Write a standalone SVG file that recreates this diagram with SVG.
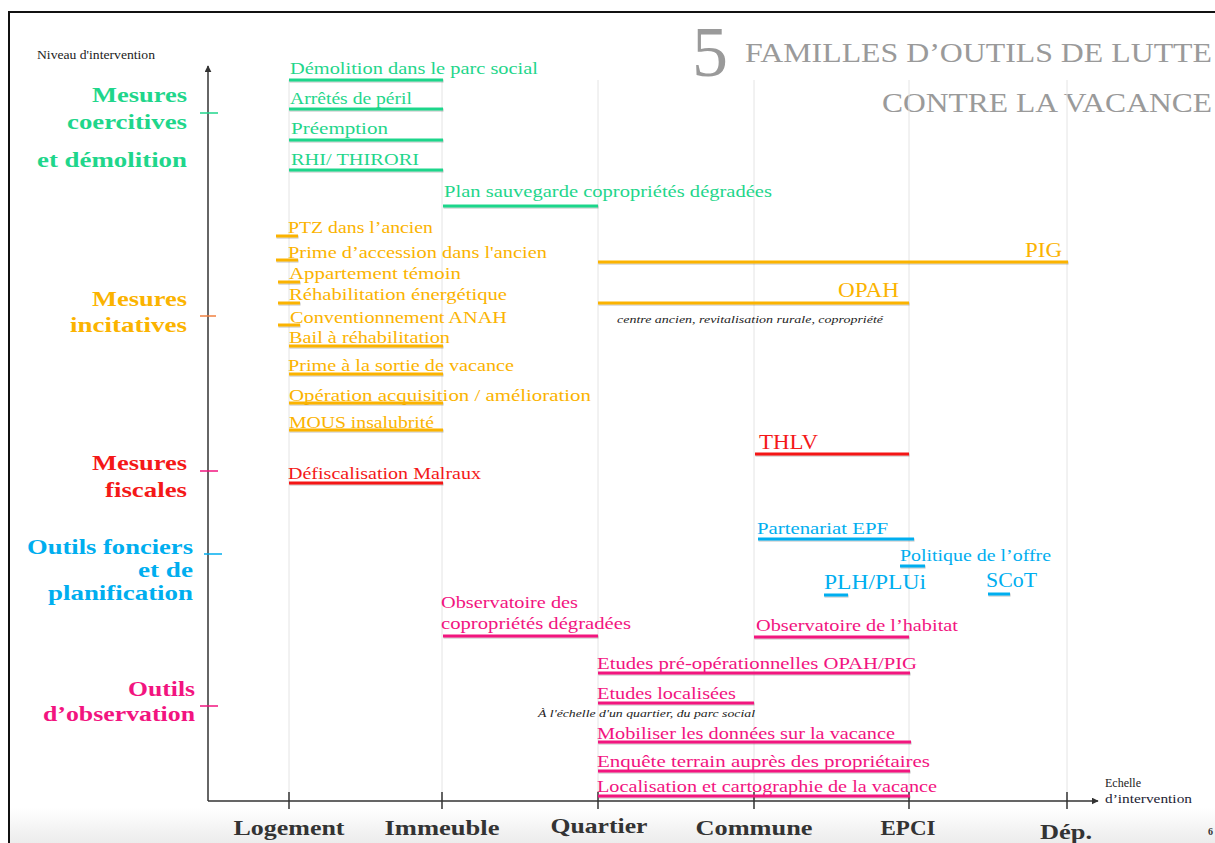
<svg xmlns="http://www.w3.org/2000/svg" width="1215" height="843" viewBox="0 0 1215 843">
<style>
text{font-family:"Liberation Serif","DejaVu Serif",serif}
.t{font-size:17px}
.big{font-size:20px}
.cat{font-size:21px;font-weight:bold;text-anchor:end}
.axl{font-size:20px;font-weight:bold;fill:#333;text-anchor:middle}
.it{font-size:10px;font-style:italic;fill:#222}
.g{fill:#1fd68b}.o{fill:#fbb300}.r{fill:#f41818}.b{fill:#00aeef}.p{fill:#f2147f}
.u{stroke-width:3;fill:none;filter:url(#sh)}
.ug{stroke:#1fd68b}.uo{stroke:#fbb300}.ur{stroke:#f41818}.ub{stroke:#00aeef}.up{stroke:#f2147f}
.grid{stroke:#e4e4e4;stroke-width:1}
.axis{stroke:#333;stroke-width:1.5;fill:none}
.title{fill:#9a9a9a}
</style>
<defs>
<marker id="ah" viewBox="0 0 10 10" refX="9" refY="5" markerWidth="7" markerHeight="7" orient="auto-start-reverse" markerUnits="userSpaceOnUse">
<path d="M0,0 L10,5 L0,10 z" fill="#333"/>
</marker>
<filter id="sh" filterUnits="userSpaceOnUse" x="0" y="0" width="1215" height="843">
<feDropShadow dx="0.5" dy="1" stdDeviation="0.6" flood-color="#000" flood-opacity="0.25"/>
</filter>
<linearGradient id="bot" x1="0" y1="0" x2="0" y2="1">
<stop offset="0" stop-color="#ffffff"/>
<stop offset="1" stop-color="#ececec"/>
</linearGradient>
</defs>
<rect x="0" y="0" width="1215" height="843" fill="#fff"/>
<rect x="10" y="808" width="1205" height="35" fill="url(#bot)"/>
<path d="M9,843 V12 H1215" stroke="#111" stroke-width="2" fill="none"/>

<g id="title" class="title">
<text x="692" y="76" font-size="72">5</text>
<text x="745" y="62" font-size="28" textLength="467" lengthAdjust="spacingAndGlyphs">FAMILLES D’OUTILS DE LUTTE</text>
<text x="1212" y="112" font-size="28" text-anchor="end" textLength="330" lengthAdjust="spacingAndGlyphs">CONTRE LA VACANCE</text>
</g>

<g id="axes">
<g class="grid">
<line x1="289" y1="80" x2="289" y2="800"/>
<line x1="442" y1="80" x2="442" y2="800"/>
<line x1="598" y1="80" x2="598" y2="800"/>
<line x1="754" y1="80" x2="754" y2="800"/>
<line x1="909" y1="80" x2="909" y2="800"/>
<line x1="1067" y1="80" x2="1067" y2="800"/>
</g>
<line class="axis" x1="208" y1="801" x2="208" y2="66" marker-end="url(#ah)"/>
<line class="axis" x1="208" y1="801" x2="1098" y2="801" marker-end="url(#ah)"/>
<g class="axis">
<line x1="289" y1="792" x2="289" y2="809"/>
<line x1="442" y1="792" x2="442" y2="809"/>
<line x1="598" y1="792" x2="598" y2="809"/>
<line x1="754" y1="792" x2="754" y2="809"/>
<line x1="909" y1="792" x2="909" y2="809"/>
<line x1="1067" y1="792" x2="1067" y2="809"/>
</g>
<line x1="200" y1="113" x2="218" y2="113" stroke="#1fd68b" stroke-width="1.5"/>
<line x1="200" y1="316" x2="216" y2="316" stroke="#f08040" stroke-width="1.5"/>
<line x1="200" y1="471" x2="218" y2="471" stroke="#f2147f" stroke-width="1.5"/>
<line x1="204" y1="554" x2="222" y2="554" stroke="#00aeef" stroke-width="1.5"/>
<line x1="200" y1="706" x2="218" y2="706" stroke="#f2147f" stroke-width="1.5"/>
<text x="37" y="59" font-size="12" fill="#222" textLength="118" lengthAdjust="spacingAndGlyphs">Niveau d'intervention</text>
<text x="1105" y="787" font-size="12" fill="#222">Echelle</text>
<text x="1105" y="803" font-size="12" fill="#223" textLength="87" lengthAdjust="spacingAndGlyphs">d’intervention</text>
<text class="axl" x="289" y="835" textLength="111" lengthAdjust="spacingAndGlyphs">Logement</text>
<text class="axl" x="442" y="835" textLength="115" lengthAdjust="spacingAndGlyphs">Immeuble</text>
<text class="axl" x="599" y="833" textLength="97" lengthAdjust="spacingAndGlyphs">Quartier</text>
<text class="axl" x="754" y="835" textLength="117" lengthAdjust="spacingAndGlyphs">Commune</text>
<text class="axl" x="908" y="835" textLength="55" lengthAdjust="spacingAndGlyphs">EPCI</text>
<text class="axl" x="1066" y="839" textLength="52" lengthAdjust="spacingAndGlyphs">Dép.</text>
<text x="1208" y="835" font-size="10" font-weight="bold" fill="#333" font-family="Liberation Sans, sans-serif">6</text>
</g>

<g id="cat-coercitives" class="g">
<text class="cat" x="187" y="102" textLength="95" lengthAdjust="spacingAndGlyphs">Mesures</text>
<text class="cat" x="187" y="129" textLength="120" lengthAdjust="spacingAndGlyphs">coercitives</text>
<text class="cat" x="187" y="167" textLength="150" lengthAdjust="spacingAndGlyphs">et démolition</text>
</g>
<g id="cat-incitatives" class="o">
<text class="cat" x="187" y="306" textLength="95" lengthAdjust="spacingAndGlyphs">Mesures</text>
<text class="cat" x="187" y="332" textLength="117" lengthAdjust="spacingAndGlyphs">incitatives</text>
</g>
<g id="cat-fiscales" class="r">
<text class="cat" x="187" y="470" textLength="95" lengthAdjust="spacingAndGlyphs">Mesures</text>
<text class="cat" x="187" y="497" textLength="82" lengthAdjust="spacingAndGlyphs">fiscales</text>
</g>
<g id="cat-fonciers" class="b">
<text class="cat" x="193" y="554" textLength="166" lengthAdjust="spacingAndGlyphs">Outils fonciers</text>
<text class="cat" x="193" y="577" textLength="55" lengthAdjust="spacingAndGlyphs">et de</text>
<text class="cat" x="193" y="600" textLength="145" lengthAdjust="spacingAndGlyphs">planification</text>
</g>
<g id="cat-observation" class="p">
<text class="cat" x="195" y="696" textLength="67" lengthAdjust="spacingAndGlyphs">Outils</text>
<text class="cat" x="195" y="721" textLength="152" lengthAdjust="spacingAndGlyphs">d’observation</text>
</g>

<!-- coercitives -->
<g id="demolition"><text class="t g" x="290" y="74" textLength="248" lengthAdjust="spacingAndGlyphs">Démolition dans le parc social</text><line class="u ug" x1="289" y1="80" x2="443" y2="80"/></g>
<g id="arretes"><text class="t g" x="290" y="104" textLength="122" lengthAdjust="spacingAndGlyphs">Arrêtés de péril</text><line class="u ug" x1="289" y1="109" x2="443" y2="109"/></g>
<g id="preemption"><text class="t g" x="291" y="134" textLength="97" lengthAdjust="spacingAndGlyphs">Préemption</text><line class="u ug" x1="289" y1="140" x2="443" y2="140"/></g>
<g id="rhi"><text class="t g" x="291" y="165" textLength="128" lengthAdjust="spacingAndGlyphs">RHI/ THIRORI</text><line class="u ug" x1="289" y1="170" x2="443" y2="170"/></g>
<g id="plan-sauvegarde"><text class="t g" x="444" y="197" textLength="328" lengthAdjust="spacingAndGlyphs">Plan sauvegarde copropriétés dégradées</text><line class="u ug" x1="443" y1="206" x2="598" y2="206"/></g>

<!-- incitatives -->
<g id="ptz"><text class="t o" x="288" y="233" textLength="145" lengthAdjust="spacingAndGlyphs">PTZ dans l’ancien</text><line class="u uo" x1="276" y1="236" x2="298" y2="236"/></g>
<g id="prime-accession"><text class="t o" x="288" y="258" textLength="259" lengthAdjust="spacingAndGlyphs">Prime d’accession dans l'ancien</text><line class="u uo" x1="276" y1="260" x2="298" y2="260"/></g>
<g id="appartement"><text class="t o" x="289" y="279" textLength="172" lengthAdjust="spacingAndGlyphs">Appartement témoin</text><line class="u uo" x1="278" y1="282" x2="300" y2="282"/></g>
<g id="rehab-energetique"><text class="t o" x="289" y="300" textLength="218" lengthAdjust="spacingAndGlyphs">Réhabilitation énergétique</text><line class="u uo" x1="278" y1="303" x2="300" y2="303"/></g>
<g id="conventionnement"><text class="t o" x="290" y="323" textLength="217" lengthAdjust="spacingAndGlyphs">Conventionnement ANAH</text><line class="u uo" x1="278" y1="325" x2="300" y2="325"/></g>
<g id="bail"><text class="t o" x="289" y="343" textLength="161" lengthAdjust="spacingAndGlyphs">Bail à réhabilitation</text><line class="u uo" x1="289" y1="346" x2="443" y2="346"/></g>
<g id="prime-sortie"><text class="t o" x="288" y="371" textLength="226" lengthAdjust="spacingAndGlyphs">Prime à la sortie de vacance</text><line class="u uo" x1="289" y1="374" x2="443" y2="374"/></g>
<g id="operation"><text class="t o" x="289" y="401" textLength="302" lengthAdjust="spacingAndGlyphs">Opération acquisition / amélioration</text><line class="u uo" x1="289" y1="403" x2="443" y2="403"/></g>
<g id="mous"><text class="t o" x="289" y="428" textLength="145" lengthAdjust="spacingAndGlyphs">MOUS insalubrité</text><line class="u uo" x1="289" y1="430" x2="443" y2="430"/></g>
<g id="pig"><text class="big o" x="1062" y="257" text-anchor="end" textLength="37" lengthAdjust="spacingAndGlyphs">PIG</text><line class="u uo" x1="598" y1="262" x2="1068" y2="262"/></g>
<g id="opah"><text class="big o" x="899" y="297" text-anchor="end" textLength="61" lengthAdjust="spacingAndGlyphs">OPAH</text><line class="u uo" x1="598" y1="303" x2="909" y2="303"/><text class="it" x="617" y="323" textLength="266" lengthAdjust="spacingAndGlyphs">centre ancien, revitalisation rurale, copropriété</text></g>

<!-- fiscales -->
<g id="malraux"><text class="t r" x="288" y="479" textLength="193" lengthAdjust="spacingAndGlyphs">Défiscalisation Malraux</text><line class="u ur" x1="289" y1="483" x2="443" y2="483"/></g>
<g id="thlv"><text class="big r" x="759" y="449" textLength="59" lengthAdjust="spacingAndGlyphs">THLV</text><line class="u ur" x1="755" y1="454" x2="909" y2="454"/></g>

<!-- fonciers -->
<g id="epf"><text class="t b" x="757" y="534" textLength="131" lengthAdjust="spacingAndGlyphs">Partenariat EPF</text><line class="u ub" x1="758" y1="539" x2="914" y2="539"/></g>
<g id="politique-offre"><text class="t b" x="900" y="561" textLength="151" lengthAdjust="spacingAndGlyphs">Politique de l’offre</text><line class="u ub" x1="900" y1="566" x2="925" y2="566"/></g>
<g id="plh"><text class="big b" x="824" y="589" textLength="102" lengthAdjust="spacingAndGlyphs">PLH/PLUi</text><line class="u ub" x1="824" y1="595" x2="848" y2="595"/></g>
<g id="scot"><text class="big b" x="986" y="587" textLength="51" lengthAdjust="spacingAndGlyphs">SCoT</text><line class="u ub" x1="988" y1="594" x2="1010" y2="594"/></g>

<!-- observation -->
<g id="obs-copro"><text class="t p" x="441" y="608" textLength="137" lengthAdjust="spacingAndGlyphs">Observatoire des</text><text class="t p" x="441" y="629" textLength="190" lengthAdjust="spacingAndGlyphs">copropriétés dégradées</text><line class="u up" x1="443" y1="636" x2="598" y2="636"/></g>
<g id="obs-habitat"><text class="t p" x="756" y="631" textLength="202" lengthAdjust="spacingAndGlyphs">Observatoire de l’habitat</text><line class="u up" x1="754" y1="637" x2="909" y2="637"/></g>
<g id="etudes-preop"><text class="t p" x="597" y="669" textLength="320" lengthAdjust="spacingAndGlyphs">Etudes pré-opérationnelles OPAH/PIG</text><line class="u up" x1="598" y1="673" x2="910" y2="673"/></g>
<g id="etudes-loc"><text class="t p" x="597" y="699" textLength="139" lengthAdjust="spacingAndGlyphs">Etudes localisées</text><line class="u up" x1="598" y1="703" x2="754" y2="703"/><text class="it" x="538" y="717" textLength="217" lengthAdjust="spacingAndGlyphs">À l'échelle d'un quartier, du parc social</text></g>
<g id="mobiliser"><text class="t p" x="597" y="739" textLength="298" lengthAdjust="spacingAndGlyphs">Mobiliser les données sur la vacance</text><line class="u up" x1="598" y1="742" x2="911" y2="742"/></g>
<g id="enquete"><text class="t p" x="597" y="767" textLength="333" lengthAdjust="spacingAndGlyphs">Enquête terrain auprès des propriétaires</text><line class="u up" x1="598" y1="771" x2="910" y2="771"/></g>
<g id="localisation"><text class="t p" x="597" y="792" textLength="340" lengthAdjust="spacingAndGlyphs">Localisation et cartographie de la vacance</text><line class="u up" x1="598" y1="796" x2="910" y2="796"/></g>

<g id="connectors"></g>
</svg>
